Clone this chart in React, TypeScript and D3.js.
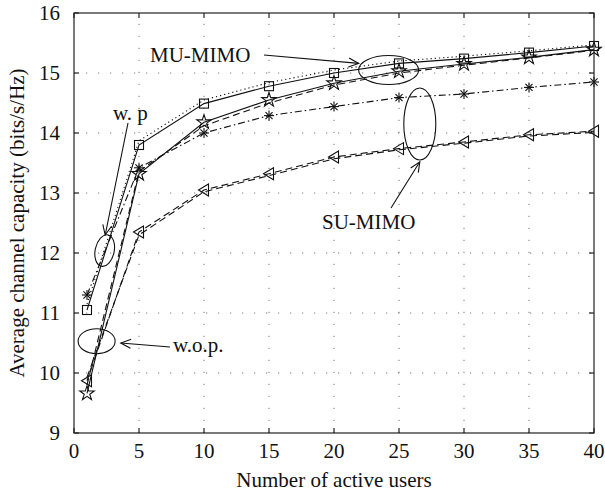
import { useEffect, useRef } from 'react';
import * as d3 from 'd3';

// number of active users
const users = [1, 5, 10, 15, 20, 25, 30, 35, 40];

// MU-MIMO with precoding (squares, solid) and its companion dotted curve
const muWpSquare = [11.05, 13.8, 14.49, 14.78, 15.0, 15.16, 15.24, 15.34, 15.45];
const muWpDotted = [11.15, 13.87, 14.55, 14.84, 15.05, 15.2, 15.28, 15.37, 15.47];
// MU-MIMO without precoding (pentagrams, solid) and dashed companion
const muWopStar = [9.66, 13.32, 14.18, 14.55, 14.83, 15.03, 15.15, 15.26, 15.39];
const muWopDashed = [9.8, 13.36, 14.12, 14.5, 14.8, 15.0, 15.13, 15.25, 15.38];
// SU-MIMO with precoding (asterisks, dash-dot)
const suWpAsterisk = [11.3, 13.42, 14.0, 14.29, 14.44, 14.59, 14.65, 14.76, 14.85];
// SU-MIMO without precoding (triangles, two dashed curves)
const suWopTriangle = [9.87, 12.35, 13.05, 13.32, 13.6, 13.74, 13.85, 13.97, 14.03];
const suWopDashed = [9.93, 12.3, 13.02, 13.29, 13.57, 13.72, 13.83, 13.95, 14.01];

const xTicks = [0, 5, 10, 15, 20, 25, 30, 35, 40];
const yTicks = [9, 10, 11, 12, 13, 14, 15, 16];

const width = 605;
const height = 495;
const margin = { top: 13, right: 11, bottom: 62, left: 74 };
const font = '"Liberation Serif", "DejaVu Serif", serif';

type Marker = 'square' | 'star' | 'asterisk' | 'triangle' | 'none';

const series: { values: number[]; dash: string; marker: Marker }[] = [
  { values: muWpDotted, dash: '1.2,3', marker: 'none' },
  { values: muWpSquare, dash: '', marker: 'square' },
  { values: muWopDashed, dash: '7,4', marker: 'none' },
  { values: muWopStar, dash: '', marker: 'star' },
  { values: suWpAsterisk, dash: '7,3,1.5,3', marker: 'asterisk' },
  { values: suWopDashed, dash: '7,4', marker: 'none' },
  { values: suWopTriangle, dash: '7,4', marker: 'triangle' },
];

const App = () => {
  const svgRef = useRef<SVGSVGElement | null>(null);

  useEffect(() => {
    const svg = d3.select(svgRef.current);
    svg.selectAll('*').remove();

    const x = d3.scaleLinear().domain([0, 40]).range([margin.left, width - margin.right]);
    const y = d3.scaleLinear().domain([9, 16]).range([height - margin.bottom, margin.top]);
    const [x0, x1] = x.range();
    const [y0, y1] = y.range();

    // grid
    const grid = svg.append('g').attr('stroke', '#777').attr('stroke-width', 1).attr('stroke-dasharray', '1.2,10.8');
    xTicks.slice(1, -1).forEach((t) => {
      grid.append('line').attr('x1', x(t)).attr('x2', x(t)).attr('y1', y0).attr('y2', y1);
    });
    yTicks.slice(1, -1).forEach((t) => {
      grid.append('line').attr('x1', x0).attr('x2', x1).attr('y1', y(t)).attr('y2', y(t));
    });

    // lines
    const line = d3.line<number>().x((_, i) => x(users[i])).y((d) => y(d));
    series.forEach((s) => {
      svg.append('path')
        .attr('d', line(s.values) ?? '')
        .attr('fill', 'none')
        .attr('stroke', '#111')
        .attr('stroke-width', 1.1)
        .attr('stroke-dasharray', s.dash || null);
    });

    // markers
    const star = d3.symbol().type(d3.symbolStar).size(65);
    series.forEach((s) => {
      if (s.marker === 'none') return;
      const g = svg.append('g').attr('fill', 'none').attr('stroke', '#111').attr('stroke-width', 1.1);
      s.values.forEach((v, i) => {
        const cx = x(users[i]);
        const cy = y(v);
        if (s.marker === 'square') {
          g.append('rect').attr('x', cx - 4.5).attr('y', cy - 4.5).attr('width', 9).attr('height', 9);
        } else if (s.marker === 'star') {
          g.append('path').attr('d', star()).attr('transform', `translate(${cx},${cy})`);
        } else if (s.marker === 'asterisk') {
          const r = 5;
          [0, 45, 90, 135].forEach((a) => {
            const dx = r * Math.cos((a * Math.PI) / 180);
            const dy = r * Math.sin((a * Math.PI) / 180);
            g.append('line').attr('x1', cx - dx).attr('x2', cx + dx).attr('y1', cy - dy).attr('y2', cy + dy);
          });
        } else if (s.marker === 'triangle') {
          g.append('path').attr('d', `M${cx - 5.5},${cy}L${cx + 4.5},${cy - 6}L${cx + 4.5},${cy + 6}Z`);
        }
      });
    });

    // box and inward ticks
    svg.append('rect')
      .attr('x', x0).attr('y', y1).attr('width', x1 - x0).attr('height', y0 - y1)
      .attr('fill', 'none').attr('stroke', '#222').attr('stroke-width', 1.2);
    const ticks = svg.append('g').attr('stroke', '#222').attr('stroke-width', 1.2);
    xTicks.forEach((t) => {
      ticks.append('line').attr('x1', x(t)).attr('x2', x(t)).attr('y1', y0).attr('y2', y0 - 5);
      ticks.append('line').attr('x1', x(t)).attr('x2', x(t)).attr('y1', y1).attr('y2', y1 + 5);
    });
    yTicks.forEach((t) => {
      ticks.append('line').attr('x1', x0).attr('x2', x0 + 5).attr('y1', y(t)).attr('y2', y(t));
      ticks.append('line').attr('x1', x1).attr('x2', x1 - 5).attr('y1', y(t)).attr('y2', y(t));
    });

    // tick labels
    const labels = svg.append('g').attr('font-family', font).attr('font-size', 21).attr('fill', '#111');
    xTicks.forEach((t) => {
      labels.append('text').attr('x', x(t)).attr('y', y0 + 25).attr('text-anchor', 'middle').text(t);
    });
    yTicks.forEach((t) => {
      labels.append('text').attr('x', x0 - 14).attr('y', y(t) + 7).attr('text-anchor', 'end').text(t);
    });

    // axis titles
    labels.append('text')
      .attr('x', (x0 + x1) / 2).attr('y', height - 8).attr('text-anchor', 'middle')
      .text('Number of active users');
    labels.append('text')
      .attr('transform', `translate(24,${(y0 + y1) / 2}) rotate(-90)`)
      .attr('text-anchor', 'middle')
      .text('Average channel capacity (bits/s/Hz)');

    // annotations
    const ann = svg.append('g').attr('fill', 'none').attr('stroke', '#111').attr('stroke-width', 1.1);
    const arrow = (ax: number, ay: number, bx: number, by: number) => {
      ann.append('line').attr('x1', ax).attr('y1', ay).attr('x2', bx).attr('y2', by);
      const ang = Math.atan2(by - ay, bx - ax);
      const len = 11;
      const spread = 0.42;
      ann.append('path').attr('d',
        `M${bx - len * Math.cos(ang - spread)},${by - len * Math.sin(ang - spread)}L${bx},${by}L${bx - len * Math.cos(ang + spread)},${by - len * Math.sin(ang + spread)}`);
    };

    // MU-MIMO
    ann.append('ellipse').attr('cx', x(24.2)).attr('cy', y(15.05)).attr('rx', 30).attr('ry', 14.5);
    arrow(264, 55, x(21.9), y(15.16));
    labels.append('text').attr('x', 150).attr('y', 62).text('MU-MIMO');

    // SU-MIMO
    ann.append('ellipse').attr('cx', x(26.6)).attr('cy', y(14.15)).attr('rx', 16).attr('ry', 36);
    arrow(391, 208, x(26.6), y(13.52));
    labels.append('text').attr('x', 322).attr('y', 229).text('SU-MIMO');

    // w. p
    ann.append('ellipse').attr('cx', x(2.36)).attr('cy', y(12.04)).attr('rx', 9.5).attr('ry', 16)
      .attr('transform', `rotate(12,${x(2.36)},${y(12.04)})`);
    arrow(128, 123, x(2.4), y(12.3));
    labels.append('text').attr('x', 113).attr('y', 120).text('w. p');

    // w.o.p.
    ann.append('ellipse').attr('cx', x(1.74)).attr('cy', y(10.53)).attr('rx', 18.5).attr('ry', 12.5);
    arrow(170, 347, x(3.6), y(10.5));
    labels.append('text').attr('x', 173).attr('y', 352).text('w.o.p.');
  }, []);

  return (
    <>
      <style>{'body{margin:0;background:#fff}'}</style>
      <svg ref={svgRef} width={width} height={height} style={{ display: 'block' }} />
    </>
  );
};

export default App;
